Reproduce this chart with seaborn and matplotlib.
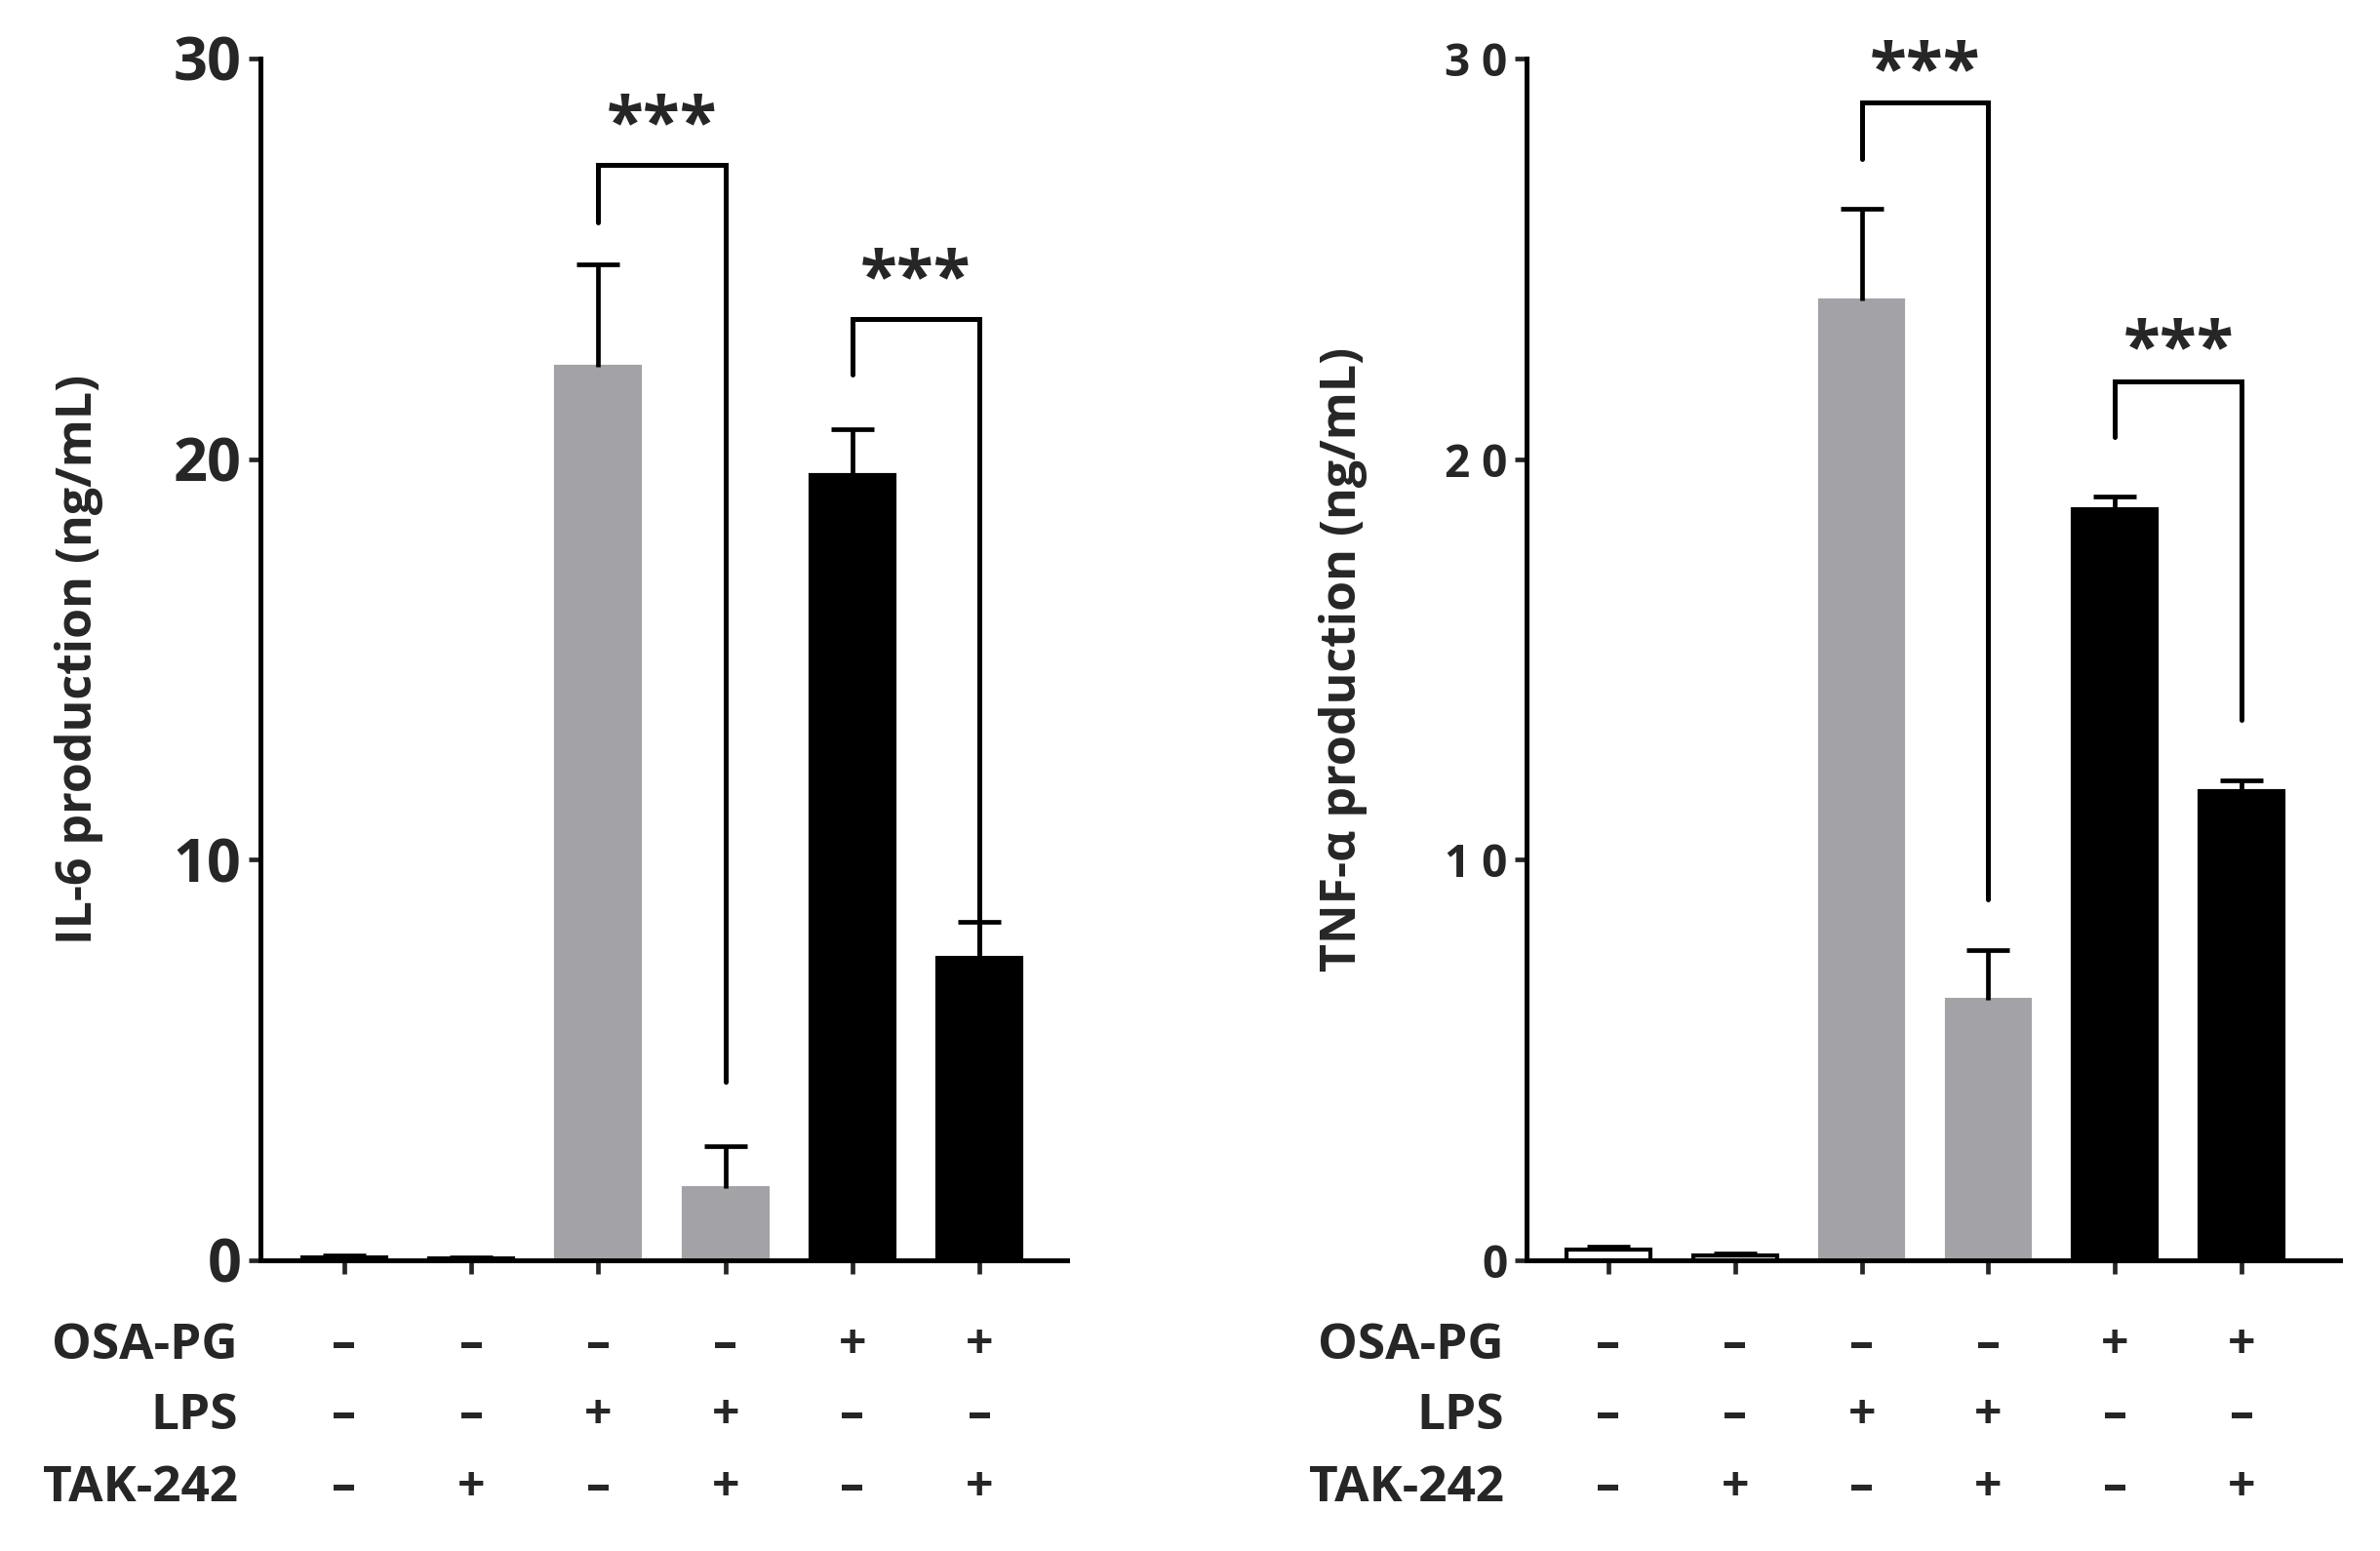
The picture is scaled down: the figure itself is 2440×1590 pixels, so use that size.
import matplotlib
matplotlib.use("Agg")
import matplotlib.pyplot as plt
import matplotlib.transforms as mtransforms
import seaborn as sns
import pandas as pd

# ---------------- data ----------------
groups = ["G1", "G2", "G3", "G4", "G5", "G6"]
osa_pg = ["–", "–", "–", "–", "+", "+"]
lps = ["–", "–", "+", "+", "–", "–"]
tak242 = ["–", "+", "–", "+", "–", "+"]
row_labels = ["OSA-PG", "LPS", "TAK-242"]

il6_mean = [0.08, 0.05, 22.3, 1.8, 19.6, 7.55]
il6_err = [0.04, 0.03, 2.55, 1.05, 1.15, 0.9]
tnf_mean = [0.27, 0.12, 23.95, 6.5, 18.75, 11.7]
tnf_err = [0.06, 0.04, 2.3, 1.25, 0.32, 0.27]

il6_ticks = ["0", "10", "20", "30"]
tnf_ticks = ["0", "1 0", "2 0", "3 0"]

# significance brackets: left group, right group, top, left leg end, right leg end
il6_br_left = [2, 4]
il6_br_right = [3, 5]
il6_br_top = [27.35, 23.5]
il6_br_lowL = [25.9, 22.1]
il6_br_lowR = [4.45, 7.65]

tnf_br_left = [2, 4]
tnf_br_right = [3, 5]
tnf_br_top = [28.9, 21.95]
tnf_br_lowL = [27.5, 20.55]
tnf_br_lowR = [9.0, 13.5]

bar_colors = ["white", "white", "#A3A2A7", "#A3A2A7", "black", "black"]
edge_colors = ["black", "black", "#A3A2A7", "#A3A2A7", "black", "black"]

sns.set_theme(style="white")
plt.rcParams["font.family"] = ["Open Sans", "DejaVu Sans"]
plt.rcParams["font.weight"] = "bold"

fig = plt.figure(figsize=(24.4, 15.9), dpi=100)
ax1 = fig.add_axes([0.1094, 0.1875, 0.339, 0.7748])
ax2 = fig.add_axes([0.6414, 0.1875, 0.342, 0.7748])


def draw(ax, mean, err, ticks, ylabel, brl, brr, brt, bll, blr, xlim, tick_fs, lab_x, star_off):
    df = pd.DataFrame({"group": groups, "value": mean})
    sns.barplot(data=df, x="group", y="value", hue="group", palette=bar_colors,
                legend=False, width=0.66, ax=ax, errorbar=None, saturation=1)
    for p, ec in zip(ax.patches, edge_colors):
        p.set_edgecolor(ec)
        p.set_linewidth(3)
    _, caps, _ = ax.errorbar(range(len(groups)), mean, yerr=[[0] * len(err), err],
                             fmt="none", ecolor="black", elinewidth=3.4, capsize=16,
                             capthick=3.4, zorder=3)
    if len(caps) == 2:
        caps[0].set_visible(False)
    ax.set_ylim(0, 30)
    ax.set_xlim(*xlim)
    ax.set_yticks([0, 10, 20, 30])
    ax.set_yticklabels(ticks, fontsize=tick_fs, fontweight="bold")
    ax.set_xticks(range(len(groups)))
    ax.set_xticklabels([""] * len(groups))
    ax.tick_params(axis="x", direction="out", length=10, width=3.4, bottom=True)
    ax.tick_params(axis="y", direction="out", length=9, width=3.4, left=True, pad=5)
    for s in ["top", "right"]:
        ax.spines[s].set_visible(False)
    for s in ["left", "bottom"]:
        ax.spines[s].set_linewidth(3.6)
        ax.spines[s].set_color("black")
    ax.set_xlabel("")
    ax.set_ylabel(ylabel, fontsize=36, fontweight="bold")
    ax.yaxis.set_label_coords(lab_x, 0.5)
    # brackets
    for l, r, t, a, b in zip(brl, brr, brt, bll, blr):
        ax.plot([l, l, r, r], [a, t, t, b], color="black", lw=3.6, clip_on=False,
                solid_joinstyle="miter")
        ax.text((l + r) / 2, t + star_off, "***", ha="center", va="baseline",
                fontsize=50, fontweight="bold")
    # condition table
    trans = mtransforms.blended_transform_factory(ax.transData, ax.transAxes)
    rows_y = [-0.0714, -0.130, -0.190]
    for lab, signs, yy in zip(row_labels, [osa_pg, lps, tak242], rows_y):
        ax.text(-0.028, yy, lab, transform=ax.transAxes, ha="right", va="center",
                fontsize=37, fontweight="bold")
        for i, s in enumerate(signs):
            ax.text(i, yy, s, transform=trans, ha="center", va="center",
                    fontsize=36, fontweight="bold")


draw(ax1, il6_mean, il6_err, il6_ticks, "IL-6 production (ng/mL)",
     il6_br_left, il6_br_right, il6_br_top, il6_br_lowL, il6_br_lowR,
     (-0.66, 5.69), 44, -0.194, 0.5)
draw(ax2, tnf_mean, tnf_err, tnf_ticks, "TNF-α production (ng/mL)",
     tnf_br_left, tnf_br_right, tnf_br_top, tnf_br_lowL, tnf_br_lowR,
     (-0.646, 5.78), 33, -0.195, 0.3)

fig.savefig("out.png", dpi=100, facecolor="white")
